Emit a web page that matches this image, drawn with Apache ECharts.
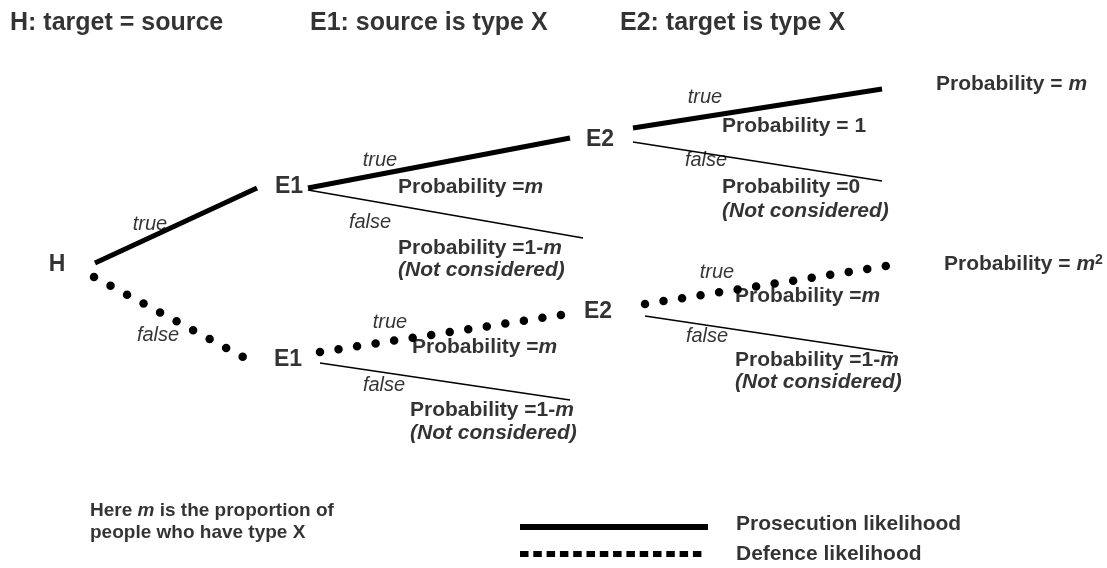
<!DOCTYPE html>
<html>
<head>
<meta charset="utf-8">
<script src="https://cdn.jsdelivr.net/npm/echarts@6/dist/echarts.min.js"></script>
<style>
    html,body{margin:0;padding:0;background:#fff;}
    #tree{width:1107px;height:568px;}
</style>
</head>
<body>
<div id="tree"></div>
<script>
    // node labels of the tree (H -> E1 -> E2)
    const nodeNames = ['H', 'E1', 'E1', 'E2', 'E2'];
    const nodeX = [57, 289, 288, 600, 598];
    const nodeY = [265, 187, 360, 140, 312];

    // branches: prosecution (thick), defence (dotted), not considered (thin)
    const prosecutionFrom = [[95, 263], [308, 188], [633, 128]];
    const prosecutionTo = [[257, 188], [570, 138], [882, 89]];
    const defenceFrom = [[94, 277], [320, 352], [645, 304]];
    const defenceTo = [[243, 357], [561, 315], [886, 266]];
    const thinFrom = [[308, 190], [633, 142], [320, 363], [645, 316]];
    const thinTo = [[583, 238], [882, 181], [570, 400], [893, 353]];

    // branch labels
    const edgeText = ['true', 'false', 'true', 'false', 'true', 'false', 'true', 'false', 'true', 'false'];
    const edgeX = [150, 158, 380, 370, 705, 706, 390, 384, 717, 707];
    const edgeY = [224, 335, 160, 222, 97, 160, 322, 385, 272, 336];

    // probabilities
    const probText = [
        'Probability ={i|m}', 'Probability =1-{i|m}', '{bi|(Not considered)}',
        'Probability = 1', 'Probability =0', '{bi|(Not considered)}',
        'Probability = {i|m}', 'Probability = {i|m}{sup|2}',
        'Probability ={i|m}', 'Probability =1-{i|m}', '{bi|(Not considered)}',
        'Probability ={i|m}', 'Probability =1-{i|m}', '{bi|(Not considered)}'
    ];
    const probX = [398, 398, 398, 722, 722, 722, 936, 944, 412, 410, 410, 735, 735, 735];
    const probY = [187, 248, 270, 126, 187, 211, 84, 264, 347, 410, 433, 296, 360, 382];

    const titleText = ['H: target = source', 'E1: source is type X', 'E2: target is type X'];
    const titleX = [10, 310, 620];
    const titleY = [23, 23, 23];

    const noteText = 'Here {i|m} is the proportion of\npeople who have type X';
    const legendNames = ['Prosecution likelihood', 'Defence likelihood'];

    const FONT = '"Liberation Sans", Arial, sans-serif';
    const richStyles = {
        i: {fontStyle: 'italic', fontWeight: 'bold', fontFamily: FONT, fontSize: 21, color: '#000'},
        bi: {fontStyle: 'italic', fontWeight: 'bold', fontFamily: FONT, fontSize: 21, color: '#000'},
        sup: {fontWeight: 'bold', fontFamily: FONT, fontSize: 14, verticalAlign: 'top', color: '#000'}
    };

    function segs(from, to) {
        return from.map((p, i) => ({coords: [p, to[i]]}));
    }

    function textItem(x, y, text, align, size, weight, style) {
        return {
            value: [x, y],
            name: text,
            label: {
                align: align,
                color: '#000',
                fontSize: size,
                fontWeight: weight,
                fontStyle: style,
                rich: richStyles
            }
        };
    }

    let texts = [];
    titleText.forEach((t, i) => texts.push(textItem(titleX[i], titleY[i], t, 'left', 25, 'bold', 'normal')));
    nodeNames.forEach((t, i) => texts.push(textItem(nodeX[i], nodeY[i], t, 'center', 23, 'bold', 'normal')));
    edgeText.forEach((t, i) => texts.push(textItem(edgeX[i], edgeY[i], t, 'center', 20, 'normal', 'italic')));
    probText.forEach((t, i) => texts.push(textItem(probX[i], probY[i], t, 'left', 21, 'bold', 'normal')));
    let note = textItem(90, 522, noteText, 'left', 19, 'bold', 'normal');
    note.label.lineHeight = 22;
    note.label.rich = Object.assign({}, richStyles, {i: Object.assign({}, richStyles.i, {fontSize: 19, lineHeight: 22})});
    texts.push(note);
    texts.push(textItem(736, 524, legendNames[0], 'left', 21, 'bold', 'normal'));
    texts.push(textItem(736, 554, legendNames[1], 'left', 21, 'bold', 'normal'));

    const chart = echarts.init(document.getElementById('tree'));
    chart.setOption({
        animation: false,
        backgroundColor: '#fff',
        grid: {left: 0, right: 0, top: 0, bottom: 0},
        xAxis: {type: 'value', min: 0, max: 1107, show: false},
        yAxis: {type: 'value', min: 0, max: 568, inverse: true, show: false},
        series: [
            {
                name: 'prosecution',
                type: 'lines',
                coordinateSystem: 'cartesian2d',
                lineStyle: {color: '#000', width: 5, opacity: 1, cap: 'butt'},
                data: segs(prosecutionFrom, prosecutionTo).concat([{coords: [[520, 527], [708, 527]], lineStyle: {width: 6}}])
            },
            {
                name: 'defence',
                type: 'lines',
                coordinateSystem: 'cartesian2d',
                lineStyle: {color: '#000', width: 8.5, opacity: 1, type: [0, 18.75], cap: 'round'},
                data: segs(defenceFrom, defenceTo)
            },
            {
                name: 'defence legend',
                type: 'lines',
                coordinateSystem: 'cartesian2d',
                lineStyle: {color: '#000', width: 6, opacity: 1, type: [8.5, 4.8], cap: 'butt'},
                data: [{coords: [[520, 554], [704, 554]]}]
            },
            {
                name: 'not considered',
                type: 'lines',
                coordinateSystem: 'cartesian2d',
                lineStyle: {color: '#000', width: 1.5, opacity: 1},
                data: segs(thinFrom, thinTo)
            },
            {
                name: 'text',
                type: 'scatter',
                symbolSize: 0,
                silent: true,
                label: {
                    show: true,
                    position: [0, 0],
                    verticalAlign: 'middle',
                    color: '#000',
                    fontFamily: FONT,
                    formatter: (p) => p.name
                },
                data: texts
            }
        ]
    });
    window.addEventListener('resize', chart.resize);
</script>
</body>
</html>
